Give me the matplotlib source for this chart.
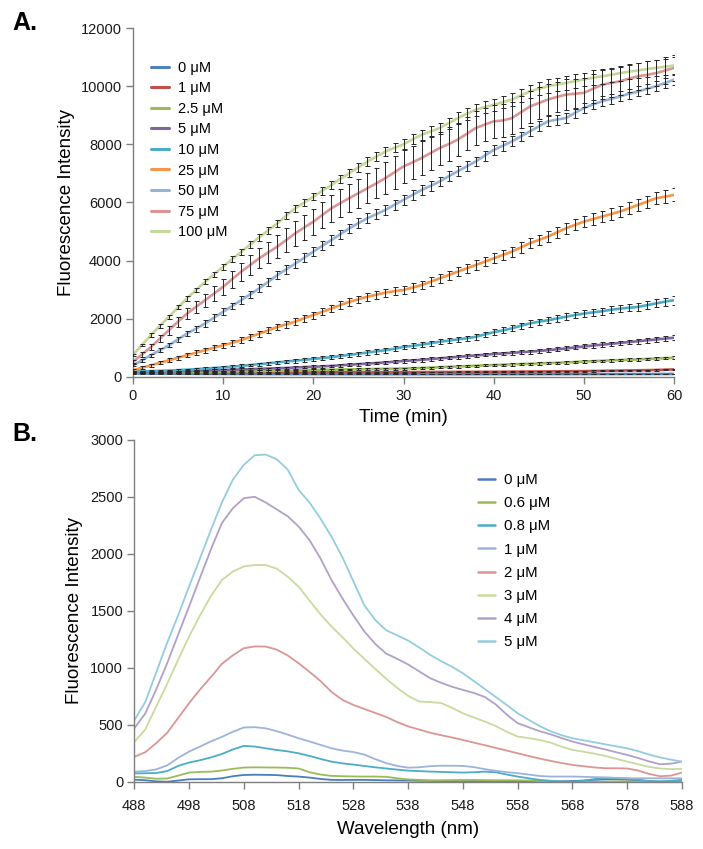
import matplotlib
matplotlib.use("Agg")
import matplotlib.pyplot as plt
import numpy as np

plt.rcParams['font.family'] = ['Liberation Sans', 'DejaVu Sans']

# ---------------- Panel A data ----------------
time_min = list(range(0, 61))
labels_a = ["0 μM", "1 μM", "2.5 μM", "5 μM", "10 μM", "25 μM", "50 μM", "75 μM", "100 μM"]
colors_a = ["#4F81BD", "#C0504D", "#9BBB59", "#8064A2", "#4BACC6", "#F79646", "#95B3D7", "#DA9694", "#C4D79B"]

a_0 = [120, 118, 116, 114, 112, 110, 108, 106, 105, 104, 103, 102, 101, 100, 100, 99, 99, 98, 98, 98,
       97, 97, 97, 96, 96, 96, 95, 95, 95, 95, 95, 95, 95, 95, 95, 95, 95, 95, 95, 96,
       96, 96, 96, 97, 97, 97, 98, 98, 98, 99, 99, 99, 100, 100, 100, 101, 101, 102, 102, 103, 103]
a_1 = [150, 148, 146, 145, 144, 143, 143, 142, 142, 142, 142, 143, 144, 145, 146, 147, 148, 150, 152, 154,
       155, 157, 158, 160, 161, 162, 163, 164, 165, 166, 167, 168, 169, 170, 171, 172, 173, 174, 175, 176,
       178, 180, 182, 184, 186, 188, 190, 192, 195, 198, 200, 205, 210, 215, 220, 225, 230, 235, 240, 250, 260]
a_2_5 = [160, 162, 164, 166, 168, 170, 172, 175, 178, 181, 185, 189, 193, 197, 201, 205, 210, 215, 222, 230,
         240, 245, 250, 255, 260, 265, 270, 275, 280, 285, 290, 300, 310, 320, 335, 350, 360, 370, 385, 398,
         410, 420, 432, 445, 455, 465, 478, 490, 500, 515, 530, 545, 555, 570, 580, 590, 605, 620, 635, 648, 660]
a_5 = [170, 175, 180, 185, 190, 195, 205, 215, 225, 232, 240, 250, 260, 270, 280, 290, 300, 310, 325, 340,
       350, 365, 380, 400, 420, 440, 460, 480, 500, 525, 550, 570, 590, 615, 640, 665, 690, 715, 740, 765,
       790, 810, 830, 850, 870, 895, 920, 950, 980, 1015, 1050, 1080, 1110, 1140, 1170, 1200, 1230, 1260, 1290, 1320, 1350]
a_10 = [190, 195, 200, 210, 220, 235, 250, 270, 290, 310, 330, 355, 380, 410, 440, 470, 500, 530, 560, 590,
        620, 650, 680, 720, 760, 800, 840, 880, 920, 970, 1030, 1070, 1110, 1160, 1210, 1250, 1290, 1330, 1380, 1460,
        1540, 1600, 1670, 1760, 1840, 1900, 1950, 2010, 2070, 2130, 2180, 2220, 2260, 2310, 2350, 2380, 2410, 2470, 2530, 2590, 2640]
a_25 = [230, 315, 400, 490, 575, 660, 750, 835, 920, 1005, 1090, 1175, 1265, 1380, 1490, 1600, 1720, 1810, 1900, 2020,
        2130, 2240, 2355, 2470, 2585, 2670, 2760, 2830, 2900, 2950, 2990, 3075, 3160, 3275, 3390, 3505, 3620, 3735, 3850, 3965,
        4080, 4195, 4310, 4455, 4600, 4710, 4826, 4970, 5113, 5230, 5343, 5430, 5515, 5600, 5690, 5800, 5917, 6030, 6147, 6200, 6262]
a_50 = [400, 570, 750, 920, 1090, 1290, 1490, 1660, 1840, 2040, 2240, 2440, 2640, 2840, 3045, 3270, 3500, 3700, 3900, 4100,
        4310, 4510, 4710, 4910, 5110, 5290, 5460, 5600, 5745, 5920, 6090, 6260, 6430, 6570, 6720, 6900, 7070, 7240, 7410, 7610,
        7810, 7950, 8100, 8270, 8445, 8620, 8790, 8850, 8905, 9080, 9250, 9370, 9480, 9560, 9650, 9740, 9820, 9910, 10000, 10110, 10226]
a_75 = [520, 770, 1030, 1320, 1610, 1900, 2180, 2410, 2640, 2870, 3100, 3360, 3620, 3850, 4080, 4280, 4480, 4710, 4940, 5140,
        5340, 5570, 5800, 5980, 6150, 6320, 6490, 6660, 6840, 7040, 7240, 7380, 7530, 7700, 7870, 8010, 8160, 8360, 8560, 8680,
        8790, 8820, 8900, 9100, 9300, 9420, 9540, 9630, 9710, 9740, 9770, 9910, 10050, 10110, 10170, 10260, 10340, 10390, 10450, 10540, 10630]
a_100 = [750, 1100, 1440, 1760, 2070, 2390, 2700, 2990, 3270, 3530, 3790, 4050, 4300, 4550, 4800, 5040, 5280, 5550, 5800, 6000,
         6200, 6400, 6600, 6810, 7010, 7210, 7410, 7580, 7750, 7880, 8000, 8170, 8330, 8440, 8560, 8730, 8900, 9050, 9190, 9280,
         9360, 9450, 9540, 9680, 9820, 9910, 10000, 10050, 10110, 10170, 10230, 10290, 10340, 10390, 10450, 10500, 10540, 10590, 10630, 10670, 10710]

# error bars (standard deviation)
e_0 = [10, 10, 10, 10, 10, 10, 10, 10, 10, 10, 10, 10, 10, 10, 10, 10, 10, 10, 10, 10,
       10, 10, 10, 10, 10, 10, 10, 10, 10, 10, 10, 10, 10, 10, 10, 10, 10, 10, 10, 10,
       10, 10, 10, 10, 10, 10, 10, 10, 10, 10, 10, 10, 10, 10, 10, 10, 10, 10, 10, 10, 10]
e_1 = [15, 15, 15, 15, 15, 15, 15, 15, 15, 15, 15, 15, 15, 15, 15, 15, 15, 15, 15, 15,
       15, 15, 15, 15, 15, 15, 15, 15, 15, 15, 15, 15, 15, 15, 15, 15, 15, 15, 15, 15,
       20, 20, 20, 20, 20, 20, 20, 20, 20, 20, 20, 20, 20, 20, 20, 20, 20, 20, 20, 20, 20]
e_2_5 = [20, 20, 20, 20, 20, 20, 20, 20, 20, 20, 25, 25, 25, 25, 25, 25, 25, 25, 25, 25,
         30, 30, 30, 30, 30, 30, 30, 30, 30, 30, 35, 35, 35, 35, 35, 35, 35, 35, 35, 35,
         40, 40, 40, 40, 40, 40, 40, 40, 40, 40, 45, 45, 45, 45, 45, 45, 45, 45, 45, 45, 50]
e_5 = [20, 20, 20, 20, 25, 25, 25, 25, 30, 30, 30, 30, 35, 35, 35, 35, 40, 40, 40, 40,
       45, 45, 45, 45, 50, 50, 50, 50, 55, 55, 55, 55, 60, 60, 60, 60, 60, 60, 60, 60,
       65, 65, 65, 65, 65, 65, 70, 70, 70, 70, 70, 75, 75, 75, 75, 80, 80, 80, 80, 80, 80]
e_10 = [20, 20, 25, 25, 30, 30, 35, 35, 40, 40, 45, 45, 50, 50, 55, 55, 60, 60, 65, 65,
        70, 70, 70, 75, 75, 75, 80, 80, 80, 85, 85, 85, 90, 90, 90, 95, 95, 95, 100, 100,
        100, 105, 105, 105, 110, 110, 110, 115, 115, 115, 120, 120, 120, 125, 125, 125, 130, 130, 135, 140, 150]
e_25 = [40, 45, 50, 55, 60, 65, 70, 75, 80, 85, 90, 95, 100, 100, 105, 105, 110, 110, 115, 115,
        120, 120, 125, 125, 130, 130, 135, 135, 140, 140, 145, 145, 150, 150, 155, 155, 160, 160, 165, 165,
        170, 170, 175, 175, 180, 180, 185, 185, 190, 190, 195, 195, 200, 200, 205, 205, 210, 210, 215, 215, 220]
e_50 = [30, 40, 50, 60, 70, 80, 90, 100, 110, 110, 120, 120, 130, 130, 140, 140, 140, 150, 150, 150,
        150, 160, 160, 160, 160, 160, 170, 170, 170, 170, 170, 170, 170, 170, 170, 170, 170, 170, 170, 170,
        170, 170, 170, 170, 170, 170, 170, 170, 170, 170, 170, 170, 170, 170, 170, 170, 170, 170, 170, 170, 170]
e_75 = [50, 80, 100, 120, 150, 170, 190, 210, 230, 250, 270, 290, 310, 330, 350, 370, 390, 400, 420, 430,
        450, 460, 470, 480, 490, 500, 510, 520, 540, 560, 570, 570, 570, 570, 570, 570, 570, 570, 570, 560,
        560, 560, 550, 550, 550, 540, 540, 530, 520, 510, 500, 500, 490, 480, 480, 470, 470, 460, 460, 450, 450]
e_100 = [40, 50, 60, 60, 70, 70, 80, 80, 90, 90, 100, 100, 110, 110, 110, 120, 120, 120, 130, 130,
         130, 140, 140, 140, 150, 150, 150, 160, 160, 160, 170, 170, 180, 180, 190, 190, 200, 200, 200, 210,
         210, 210, 220, 220, 220, 230, 230, 230, 240, 240, 240, 250, 250, 250, 260, 260, 260, 270, 270, 270, 280]

series_a = [a_0, a_1, a_2_5, a_5, a_10, a_25, a_50, a_75, a_100]
errors_a = [e_0, e_1, e_2_5, e_5, e_10, e_25, e_50, e_75, e_100]

# ---------------- Panel B data ----------------
wavelength_nm = list(range(488, 589, 2))
labels_b = ["0 μM", "0.6 μM", "0.8 μM", "1 μM", "2 μM", "3 μM", "4 μM", "5 μM"]
colors_b = ["#4A7EBB", "#9BBB59", "#4BACC6", "#9DB3DC", "#DA9694", "#C9DA9E", "#B1A0C7", "#93CDDD"]

b_0 = [20, 15, 5, 2, 12, 23, 24, 24, 32, 50, 61, 63, 62, 60, 52, 47, 38, 26, 18, 17,
       18, 18, 16, 14, 13, 12, 10, 9, 8, 8, 8, 8, 8, 8, 8, 7, 6, 5, 5, 6,
       8, 12, 18, 22, 24, 20, 12, 6, 4, 5, 8]
b_0_6 = [45, 38, 28, 30, 55, 82, 88, 90, 100, 115, 126, 128, 127, 126, 124, 118, 85, 65, 53, 50,
         48, 47, 47, 45, 32, 22, 18, 15, 15, 16, 17, 17, 16, 15, 15, 14, 12, 8, 4, 1,
         0, 0, 0, 2, 5, 5, 3, 0, 0, 0, 0]
b_0_8 = [75, 76, 78, 95, 140, 170, 190, 215, 245, 285, 316, 310, 295, 280, 268, 251, 228, 202, 178, 163,
         152, 140, 128, 118, 108, 99, 95, 91, 88, 85, 82, 85, 90, 85, 65, 47, 32, 18, 10, 4,
         0, 10, 25, 35, 33, 30, 20, 8, 3, 10, 18]
b_1 = [90, 95, 110, 145, 210, 266, 310, 355, 395, 440, 477, 480, 470, 445, 415, 383, 355, 325, 295, 275,
       262, 240, 200, 165, 140, 125, 128, 138, 142, 142, 140, 130, 112, 98, 86, 76, 65, 52, 47, 47,
       47, 45, 42, 40, 36, 32, 32, 32, 32, 32, 32]
b_2 = [220, 260, 340, 430, 560, 690, 810, 920, 1035, 1110, 1172, 1188, 1187, 1160, 1110, 1041, 965, 885, 790, 720,
       675, 640, 605, 570, 525, 487, 460, 432, 410, 390, 368, 345, 322, 298, 275, 251, 228, 205, 185, 166,
       149, 138, 127, 120, 120, 118, 100, 70, 50, 55, 82]
b_3 = [350, 460, 660, 860, 1070, 1275, 1460, 1630, 1770, 1845, 1889, 1902, 1902, 1870, 1800, 1713, 1590, 1470, 1363, 1270,
       1170, 1080, 990, 905, 825, 755, 705, 700, 692, 650, 602, 565, 530, 490, 440, 398, 385, 368, 345, 310,
       281, 265, 248, 228, 203, 178, 155, 132, 118, 112, 114]
b_4 = [470, 600, 810, 1040, 1290, 1538, 1790, 2040, 2270, 2400, 2488, 2500, 2450, 2390, 2330, 2240, 2120, 1960, 1772, 1610,
       1460, 1320, 1210, 1125, 1080, 1030, 970, 910, 870, 835, 807, 780, 745, 680, 590, 515, 480, 445, 418, 385,
       354, 330, 307, 285, 260, 237, 210, 180, 155, 160, 178]
b_5 = [540, 700, 960, 1220, 1460, 1713, 1960, 2210, 2450, 2650, 2780, 2865, 2870, 2830, 2740, 2561, 2450, 2310, 2152, 1970,
       1760, 1550, 1420, 1330, 1285, 1240, 1180, 1115, 1060, 1010, 953, 885, 815, 745, 675, 602, 545, 490, 445, 410,
       383, 365, 348, 330, 312, 295, 270, 240, 215, 195, 178]

series_b = [b_0, b_0_6, b_0_8, b_1, b_2, b_3, b_4, b_5]

# ---------------- Figure ----------------
fig = plt.figure(figsize=(7.03, 8.49), dpi=100)
spine_col = "#7F7F7F"
tick_fs = 10.5
label_fs = 13.5

# Panel A
axA = fig.add_axes([0.189, 0.556, 0.770, 0.411])
for vals, errs, col, lab in zip(series_a, errors_a, colors_a, labels_a):
    axA.plot(time_min, vals, color=col, lw=1.9, label=lab, zorder=2,
             solid_joinstyle='round', solid_capstyle='round')
for vals, errs in zip(series_a, errors_a):
    axA.errorbar(time_min, vals, yerr=errs, fmt='none', ecolor='#262626',
                 elinewidth=0.7, capsize=1.8, capthick=0.7, zorder=3)
axA.set_xlim(0, 60)
axA.set_ylim(0, 12000)
axA.set_xticks(range(0, 61, 10))
axA.set_yticks(range(0, 12001, 2000))
axA.set_xlabel("Time (min)", fontsize=label_fs, labelpad=4)
axA.set_ylabel("Fluorescence Intensity", fontsize=label_fs, labelpad=4)
leg = axA.legend(loc='upper left', bbox_to_anchor=(0.023, 0.923), frameon=False,
                 fontsize=10.5, handlelength=1.25, handletextpad=0.6, labelspacing=0.45,
                 borderaxespad=0)
for h in leg.get_lines():
    h.set_linewidth(2.2)

# Panel B
axB = fig.add_axes([0.191, 0.079, 0.779, 0.403])
for vals, col, lab in zip(series_b, colors_b, labels_b):
    axB.plot(wavelength_nm, vals, color=col, lw=1.3, label=lab,
             solid_joinstyle='round', solid_capstyle='round')
axB.set_xlim(488, 588)
axB.set_ylim(0, 3000)
axB.set_xticks(range(488, 589, 10))
axB.set_yticks(range(0, 3001, 500))
axB.set_xlabel("Wavelength (nm)", fontsize=label_fs, labelpad=6)
axB.set_ylabel("Fluorescence Intensity", fontsize=label_fs, labelpad=5)
legB = axB.legend(loc='upper left', bbox_to_anchor=(0.617, 0.92), frameon=False,
                  fontsize=10.8, handlelength=1.15, handletextpad=0.6, labelspacing=0.61,
                  borderaxespad=0)
for h in legB.get_lines():
    h.set_linewidth(1.8)

for ax, pad in ((axA, 3), (axB, 6)):
    for s in ("top", "right"):
        ax.spines[s].set_visible(False)
    for s in ("left", "bottom"):
        ax.spines[s].set_color(spine_col)
        ax.spines[s].set_linewidth(1.0)
    ax.tick_params(axis='both', direction='out', length=5, width=1.0, color=spine_col,
                   labelsize=tick_fs, labelcolor='#1A1A1A')
    ax.tick_params(axis='x', pad=pad + 1)
    ax.tick_params(axis='y', pad=3)

fig.text(0.018, 1 - 30 / 849, "A.", fontsize=18, fontweight='bold', va='baseline')
fig.text(0.018, 1 - 441 / 849, "B.", fontsize=18, fontweight='bold', va='baseline')

fig.savefig("out.png", dpi=100)
